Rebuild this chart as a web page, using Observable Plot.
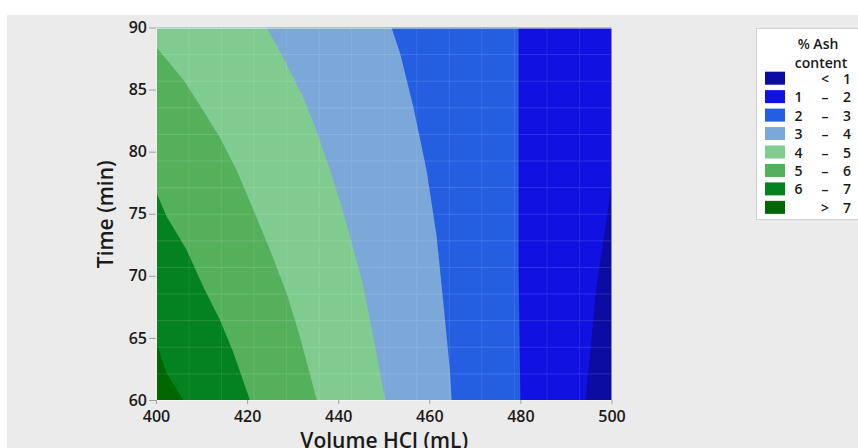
<!DOCTYPE html>
<html><head><meta charset="utf-8">
<script src="https://cdn.jsdelivr.net/npm/d3@7"></script>
<script src="https://cdn.jsdelivr.net/npm/@observablehq/plot@0.6"></script>
<style>
html,body{margin:0;padding:0;background:#fff;width:858px;height:448px;overflow:hidden;font-family:"Open Sans","Noto Sans",sans-serif;}
#bg{position:absolute;left:7px;top:15px;width:851px;height:433px;background:#ebebeb;}
#chart{position:absolute;left:0;top:0;}
#legend{position:absolute;left:756px;top:28px;}
#chart svg g[aria-label="y-axis tick label"] text, #chart svg g[aria-label="x-axis tick label"] text{font-weight:600;}
#chart svg g[aria-label="text"] text{font-weight:600;}
</style></head>
<body><div id="bg"></div><div id="chart"></div><div id="legend"></div>
<script>
// Contour level labels and colours (lowest ash first)
const legendLow  = ["", "1", "2", "3", "4", "5", "6", ""];
const legendSep  = ["<", "–", "–", "–", "–", "–", "–", ">"];
const legendHigh = ["1", "2", "3", "4", "5", "6", "7", "7"];
const levelColors = ["#0c0ca2", "#1111e2", "#245fe2", "#7ba7d9", "#80cc90", "#55b05c", "#03821f", "#006600"];

// Contour boundaries: time (min) and volume HCl (mL); ash is higher to the left
const ash1Time = [90, 77.5, 74.5, 71.8, 69.1, 63.8, 60];
const ash1Vol  = [500, 500, 498.9, 497.8, 496.7, 495.3, 494.3];
const ash2Time = [90, 70.7, 60];
const ash2Vol  = [479.6, 479.6, 480.0];
const ash3Time = [90, 87.9, 83.6, 78.5, 73.2, 67.8, 62.5, 60];
const ash3Vol  = [451.7, 453.6, 456.5, 459.4, 461.6, 463.1, 464.5, 464.9];
const ash4Time = [90, 87.6, 84.4, 81.7, 78.5, 76.1, 73.2, 69.2, 65.1, 60];
const ash4Vol  = [424.3, 427.9, 432.3, 435.2, 438.2, 440.3, 442.6, 445.5, 447.7, 450.3];
const ash5Time = [88.45, 85.8, 83.7, 81.1, 78.5, 75.3, 72.1, 68.6, 65.1, 60];
const ash5Vol  = [400, 406.0, 409.7, 414.1, 417.7, 421.4, 425.0, 428.7, 431.6, 435.3];
const ash6Time = [76.8, 74.8, 72.1, 69.1, 66.4, 63.8, 60];
const ash6Vol  = [400, 402.3, 406.7, 410.4, 414.1, 417.0, 420.6];
const ash7Time = [64.7, 62.2, 60];
const ash7Vol  = [400, 402.3, 406.0];

const xTicks = [400, 420, 440, 460, 480, 500];
const yTicks = [60, 65, 70, 75, 80, 85, 90];
const xDomain = [400, 500];
const yDomain = [60, 90];
const xLabel = "Volume HCl (mL)";
const yLabel = "Time (min)";
const legendTitle = ["% Ash", "content"];

const boundaries = [
  [ash1Time, ash1Vol], [ash2Time, ash2Vol], [ash3Time, ash3Vol], [ash4Time, ash4Vol],
  [ash5Time, ash5Vol], [ash6Time, ash6Vol], [ash7Time, ash7Vol]
];

// faint mesh lines of the surface (15 x 15 grid)
const meshT = d3.range(1, 14).map(k => yDomain[0] + k * (yDomain[1] - yDomain[0]) / 14);
const meshV = d3.range(1, 14).map(k => xDomain[0] + k * (xDomain[1] - xDomain[0]) / 14);

const areas = boundaries.map(([ts, vs], i) =>
  Plot.areaX(ts.map((t, j) => ({t, v: vs[j]})), {
    y: "t", x1: () => xDomain[0], x2: "v", fill: levelColors[i + 1], curve: "linear"
  })
);

const chart = Plot.plot({
  width: 858, height: 448,
  marginLeft: 156, marginRight: 246.5, marginTop: 27.5, marginBottom: 48,
  style: {background: "transparent", fontFamily: "'Open Sans', 'Noto Sans', sans-serif", fontSize: "16px", color: "#1a1a1a"},
  x: {domain: xDomain},
  y: {domain: yDomain},
  marks: [
    Plot.frame({fill: levelColors[0]}),
    ...areas,
    Plot.ruleY(meshT, {stroke: "white", strokeOpacity: 0.13}),
    Plot.ruleX(meshV, {stroke: "white", strokeOpacity: 0.09}),
    Plot.frame({stroke: "#f4f4f4", strokeWidth: 1}),
    Plot.axisY({ticks: yTicks, tickSize: 7, tickPadding: 2.5, stroke: "#a0a0a0", fill: "#1a1a1a", label: null, fontSize: 16}),
    Plot.axisX({ticks: xTicks, tickSize: 4, tickPadding: 6, stroke: "#a0a0a0", fill: "#1a1a1a", label: null, fontSize: 16}),
    Plot.text([yLabel], {frameAnchor: "left", textAnchor: "middle", dx: -50, rotate: -90, fontSize: 21, fill: "#1a1a1a"}),
    Plot.text([xLabel], {frameAnchor: "bottom", textAnchor: "middle", lineAnchor: "top", dy: 33, fontSize: 21, fill: "#1a1a1a"})
  ]
});
document.getElementById("chart").append(chart);

// Legend
const lg = d3.select("#legend").append("svg").attr("width", 110).attr("height", 194)
  .style("font-family", "'Open Sans','Noto Sans',sans-serif").style("font-size", "14px");
lg.append("rect").attr("x", 0.5).attr("y", 0.5).attr("width", 120).attr("height", 191)
  .attr("fill", "#fff").attr("stroke", "#cfcfcf");
lg.append("text").attr("x", 62).attr("y", 21).attr("text-anchor", "middle").attr("fill", "#1a1a1a").attr("font-weight", 600).text(legendTitle[0]);
lg.append("text").attr("x", 65).attr("y", 40).attr("text-anchor", "middle").attr("fill", "#1a1a1a").attr("font-weight", 600).text(legendTitle[1]);
levelColors.forEach((c, i) => {
  const y0 = 43.7 + i * 18.45;
  lg.append("rect").attr("x", 9).attr("y", y0).attr("width", 20).attr("height", 13).attr("fill", c);
  const g = lg.append("g").attr("fill", "#1a1a1a").attr("text-anchor", "middle").attr("font-weight", 600);
  g.append("text").attr("x", 42.5).attr("y", y0 + 12).text(legendLow[i]);
  g.append("text").attr("x", 69).attr("y", y0 + 12).text(legendSep[i]);
  g.append("text").attr("x", 91).attr("y", y0 + 12).text(legendHigh[i]);
});
</script>
</body></html>
